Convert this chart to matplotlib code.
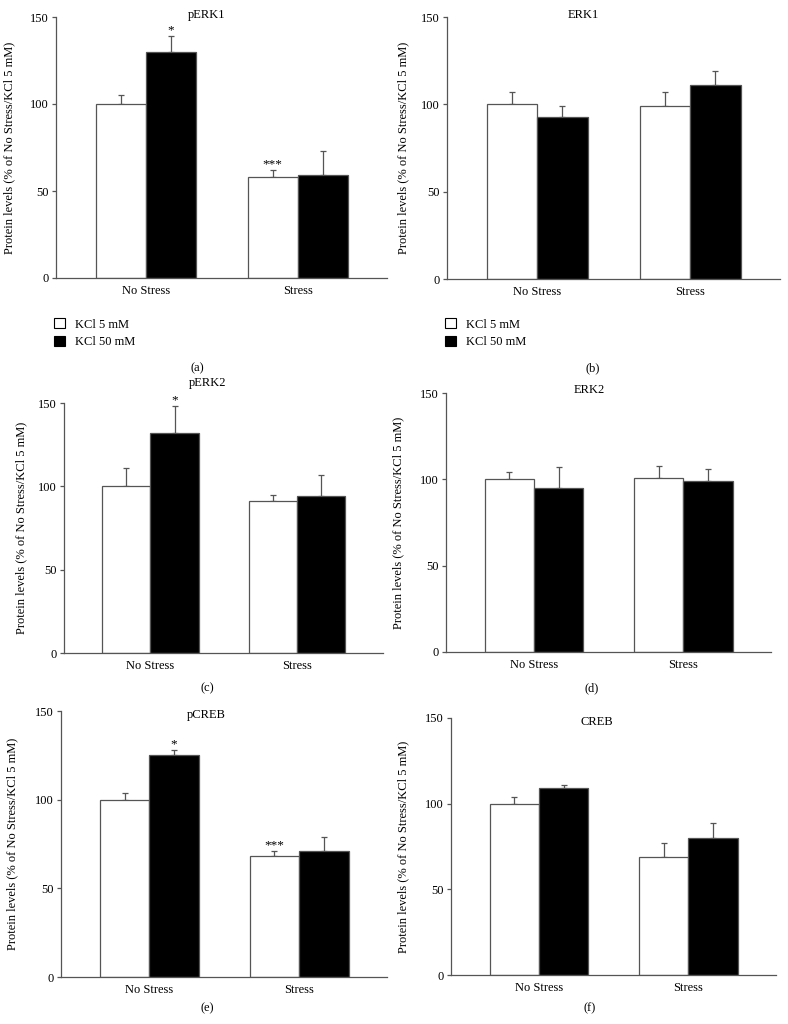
import matplotlib
matplotlib.use("Agg")
import matplotlib.pyplot as plt
from matplotlib.patches import Patch

plt.rcParams['font.family'] = ['Liberation Serif', 'DejaVu Serif']
plt.rcParams['font.size'] = 9

groups = ["No Stress", "Stress"]
series = ["KCl 5 mM", "KCl 50 mM"]
ylabel = "Protein levels (% of No Stress/KCl 5 mM)"
yticks = [0, 50, 100, 150]

titles = ["pERK1", "ERK1", "pERK2", "ERK2", "pCREB", "CREB"]
letters = ["(a)", "(b)", "(c)", "(d)", "(e)", "(f)"]

# means and upper SEM per group (No Stress, Stress)
kcl5 = {
    "pERK1": [100, 58], "ERK1": [100, 99], "pERK2": [100, 91],
    "ERK2": [100, 101], "pCREB": [100, 68], "CREB": [100, 69],
}
kcl5_err = {
    "pERK1": [5, 4], "ERK1": [7, 8], "pERK2": [11, 4],
    "ERK2": [4, 7], "pCREB": [4, 3], "CREB": [4, 8],
}
kcl50 = {
    "pERK1": [130, 59], "ERK1": [93, 111], "pERK2": [132, 94],
    "ERK2": [95, 99], "pCREB": [125, 71], "CREB": [109, 80],
}
kcl50_err = {
    "pERK1": [9, 14], "ERK1": [6, 8], "pERK2": [16, 13],
    "ERK2": [12, 7], "pCREB": [3, 8], "CREB": [2, 9],
}
stars5 = {
    "pERK1": ["", "***"], "ERK1": ["", ""], "pERK2": ["", ""],
    "ERK2": ["", ""], "pCREB": ["", "***"], "CREB": ["", ""],
}
stars50 = {
    "pERK1": ["*", ""], "ERK1": ["", ""], "pERK2": ["*", ""],
    "ERK2": ["", ""], "pCREB": ["*", ""], "CREB": ["", ""],
}

W, H = 788, 1024
# axes boxes in pixels: left, top, right, bottom
boxes = [(56, 17, 387, 278), (447, 17, 780, 279),
         (64, 403, 383, 653), (446, 393, 771, 652),
         (61, 711, 387, 977), (451, 718, 776, 975)]
title_pos = [(207, 15), (583, 15), (208, 383), (589, 390), (206, 715), (597, 722)]
letter_pos = [(197, 368), (593, 368), (207, 688), (592, 688), (207, 1008), (590, 1008)]
ylabel_x = [15, 409, 27, 404, 18, 409]

edge = '#555555'
w = 0.33

fig = plt.figure(figsize=(W / 100, H / 100), dpi=100)

for i, name in enumerate(titles):
    l, t, r, b = boxes[i]
    ax = fig.add_axes([l / W, 1 - b / H, (r - l) / W, (b - t) / H])
    x = list(range(len(groups)))
    x5 = [v - w / 2 for v in x]
    x50 = [v + w / 2 for v in x]
    ax.bar(x5, kcl5[name], w, color='white', edgecolor=edge, linewidth=0.9, zorder=2)
    ax.bar(x50, kcl50[name], w, color='black', edgecolor=edge, linewidth=0.9, zorder=2)
    ax.errorbar(x5, kcl5[name], yerr=[[0, 0], kcl5_err[name]], fmt='none',
                ecolor=edge, elinewidth=0.9, capsize=2.2, capthick=0.9, zorder=1)
    ax.errorbar(x50, kcl50[name], yerr=[[0, 0], kcl50_err[name]], fmt='none',
                ecolor=edge, elinewidth=0.9, capsize=2.2, capthick=0.9, zorder=1)
    for j in range(len(groups)):
        if stars5[name][j]:
            ax.text(x5[j], kcl5[name][j] + kcl5_err[name][j], stars5[name][j],
                    ha='center', va='bottom', fontsize=9.5)
        if stars50[name][j]:
            ax.text(x50[j], kcl50[name][j] + kcl50_err[name][j], stars50[name][j],
                    ha='center', va='bottom', fontsize=9.5)

    ax.set_xlim(-0.59, 1.587)
    ax.set_ylim(0, 150)
    ax.set_yticks(yticks)
    ax.set_xticks(x)
    ax.set_xticklabels(groups)
    ax.tick_params(axis='x', length=0, pad=5)
    ax.tick_params(axis='y', length=3, width=0.9, color=edge, pad=2)
    for s in ['top', 'right']:
        ax.spines[s].set_visible(False)
    for s in ['left', 'bottom']:
        ax.spines[s].set_color(edge)
        ax.spines[s].set_linewidth(0.9)
    ax.set_ylabel(ylabel)
    ax.yaxis.set_label_coords((ylabel_x[i] - l) / (r - l), 0.5)

    tx, ty = title_pos[i]
    fig.text(tx / W, 1 - ty / H, name, ha='center', va='center')
    lx, ly = letter_pos[i]
    fig.text(lx / W, 1 - ly / H, letters[i], ha='center', va='center')

    if i < 2:
        handles = [Patch(facecolor='white', edgecolor='black', linewidth=0.8),
                   Patch(facecolor='black', edgecolor='black', linewidth=0.8)]
        ax.legend(handles, series, loc='upper left', frameon=False,
                  bbox_to_anchor=((l - 2) / W, 1 - 318 / H), bbox_transform=fig.transFigure,
                  handlelength=0.9, handleheight=0.9, handletextpad=0.8,
                  labelspacing=0.4, borderpad=0, borderaxespad=0)

fig.savefig("out.png", dpi=100)
